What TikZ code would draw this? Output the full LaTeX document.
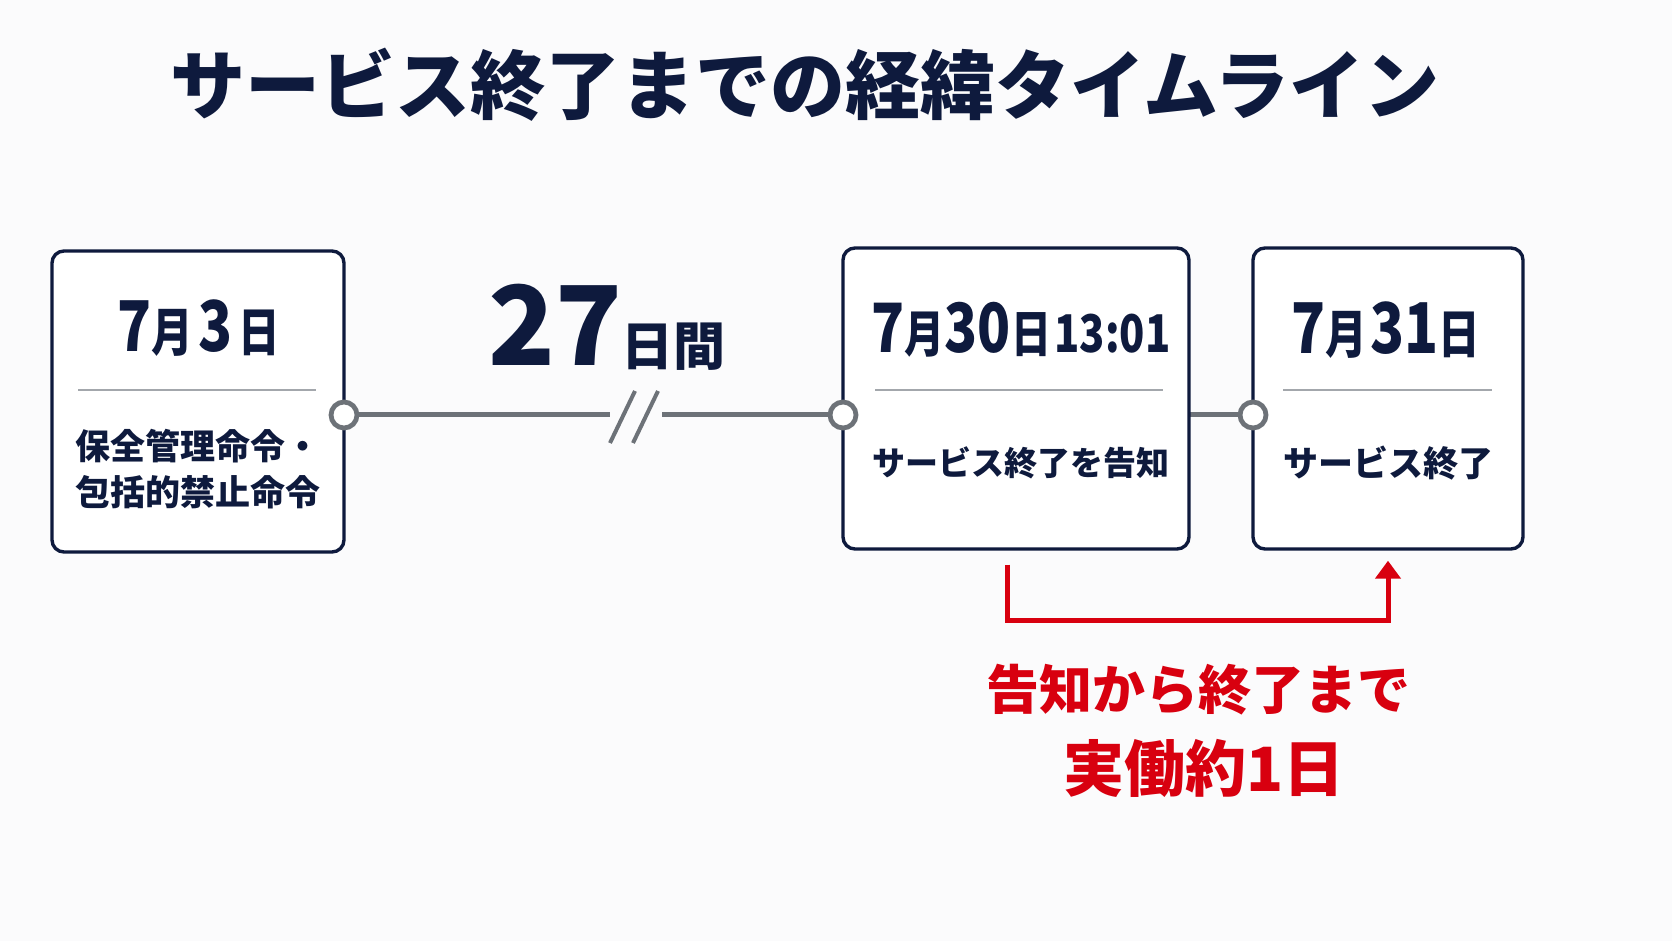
\documentclass[tikz,border=0pt]{standalone}
\usepackage{fontspec}
\setmainfont{Noto Sans CJK JP}[BoldFont={Noto Sans CJK JP Black}]
\usepackage{graphicx}
\usetikzlibrary{arrows.meta}
\definecolor{navy}{HTML}{0E1A3D}
\definecolor{linegray}{HTML}{6D7278}
\definecolor{rulegray}{HTML}{A3A7AC}
\definecolor{alertred}{HTML}{D8000F}
\definecolor{paper}{HTML}{FBFBFC}
\newcommand{\cond}[1]{\scalebox{0.8}[1]{#1}}

\begin{document}
\begin{tikzpicture}[x=0.5pt,y=-0.5pt,
    eventbox/.style={draw=navy, line width=1.7pt, rounded corners=6pt, fill=white, minimum height=150.5pt},
    dot/.style={circle, draw=linegray, line width=2.4pt, fill=white, minimum size=13pt, inner sep=0pt},
    track/.style={draw=linegray, line width=2.5pt},
    sep/.style={draw=rulegray, line width=1.3pt},
    datelabel/.style={text=navy, font=\bfseries, inner sep=0pt},
    eventlabel/.style={text=navy, font=\bfseries\fontsize{17.5}{21}\selectfont, align=center, inner sep=0pt},
    redlabel/.style={text=alertred, font=\bfseries, inner sep=0pt}]
      % Background and bounding box
      \fill[paper] (0,0) rectangle (1672,941);
      \useasboundingbox (0,0) rectangle (1672,941);

      % Title
      \node[text=navy, font=\bfseries\fontsize{37.5}{40}\selectfont] (title) at (805,85) {サービス終了までの経緯タイムライン};

      % Points on the timeline
      \coordinate (c1pos) at (344,415);
      \coordinate (c2pos) at (843,415);
      \coordinate (c3pos) at (1253,415);
      \coordinate (brkL) at (610,415);
      \coordinate (brkR) at (662,415);

      % Draw the timeline (behind the boxes)
      \draw[track] (c1pos) -- (brkL);
      \draw[track] (brkR) -- (c2pos);
      \draw[track] (c2pos) -- (c3pos);

      % Break mark
      \draw[linegray, line width=2pt] (610,443) -- (635,391);
      \draw[linegray, line width=2pt] (633,443) -- (658,391);

      % Draw the boxes
      \node[eventbox, minimum width=146pt] (box1) at (198,401.5) {};
      \node[eventbox, minimum width=173pt] (box2) at (1016,398.5) {};
      \node[eventbox, minimum width=135pt] (box3) at (1388,398.5) {};

      % Separators
      \draw[sep] (78,390) -- (316,390);
      \draw[sep] (875,390) -- (1163,390);
      \draw[sep] (1283,390) -- (1492,390);

      % Draw the points
      \node[dot] (c1) at (c1pos) {};
      \node[dot] (c2) at (c2pos) {};
      \node[dot] (c3) at (c3pos) {};

      % Dates
      \node[datelabel] (date1) at (199,328) {\cond{\fontsize{35}{38}\selectfont 7}\cond{\fontsize{26}{28}\selectfont 月}\;\cond{\fontsize{35}{38}\selectfont 3}\;\cond{\fontsize{26}{28}\selectfont 日}};
      \node[datelabel] (date2) at (1021,330) {\cond{\fontsize{34}{36}\selectfont 7}\cond{\fontsize{25}{28}\selectfont 月}\cond{\fontsize{34}{36}\selectfont 30}\cond{\fontsize{25}{28}\selectfont 日}\,\cond{\fontsize{26}{28}\selectfont 13:01}};
      \node[datelabel] (date3) at (1386,330) {\cond{\fontsize{35}{38}\selectfont 7}\cond{\fontsize{26}{28}\selectfont 月}\,\cond{\fontsize{35}{38}\selectfont 31}\cond{\fontsize{26}{28}\selectfont 日}};

      % Events
      \node[eventlabel] (event1) at (198,469) {保全管理命令・\\[2pt]包括的禁止命令};
      \node[eventlabel, font=\bfseries\fontsize{16.5}{20}\selectfont] (event2) at (1021,463) {サービス終了を告知};
      \node[eventlabel] (event3) at (1388,463) {サービス終了};

      % Gap label
      \node[text=navy, font=\bfseries, inner sep=0pt, anchor=base] (gap) at (607,365) {{\fontsize{55}{58}\selectfont 27}{\fontsize{26}{28}\selectfont 日間}};

      % Red bracket arrow
      \coordinate (arrS) at ([xshift=-4.5pt,yshift=-7pt]box2.south);
      \coordinate (arrE) at ([yshift=-5pt]box3.south);
      \draw[alertred, line width=2.5pt, -{Triangle[width=12.5pt,length=9pt]}] (arrS) -- (arrS |- 0,620) -| (arrE);

      % Red note
      \node[redlabel, font=\bfseries\fontsize{26.5}{30}\selectfont] (note1) at (1198,690) {告知から終了まで};
      \node[redlabel, font=\bfseries\fontsize{30.5}{32}\selectfont] (note2) at (1204,768) {実働約1日};
\end{tikzpicture}
\end{document}
